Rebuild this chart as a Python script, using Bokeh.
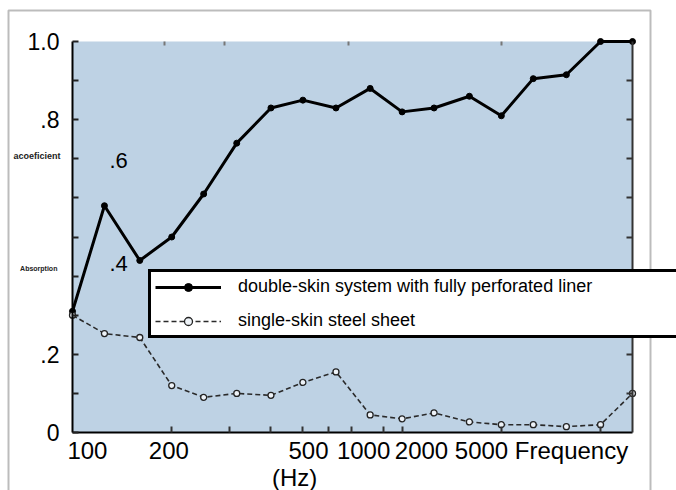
import math
from bokeh.plotting import figure
from bokeh.models import (Range1d, FixedTicker, LinearAxis, LogAxis, Legend,
                          LegendItem, Label, BoxAnnotation, ColumnDataSource)
from bokeh.embed import file_html
from bokeh.resources import INLINE

# 1/3-octave band centre frequencies (Hz)
freq = [100, 125, 160, 200, 250, 315, 400, 500, 630, 800,
        1000, 1250, 1600, 2000, 2500, 3150, 4000, 5000]
# absorption coefficient
double_skin = [0.31, 0.58, 0.44, 0.50, 0.61, 0.74, 0.83, 0.85, 0.83, 0.88,
               0.82, 0.83, 0.86, 0.81, 0.905, 0.915, 1.0, 1.0]
single_skin = [0.30, 0.253, 0.243, 0.12, 0.09, 0.10, 0.095, 0.128, 0.155, 0.045,
               0.035, 0.05, 0.027, 0.02, 0.02, 0.015, 0.02, 0.10]

series_names = ["double-skin system with fully perforated liner",
                "single-skin steel sheet"]

# tick labels as they appear on the original figure
y_label_vals = [0, 0.2, 0.8, 1.0]
y_label_text = ["0", ".2", ".8", "1.0"]
y_minor_vals = [0.1, 0.3, 0.4, 0.5, 0.6, 0.7, 0.9]
x_label_vals = [111, 196, 520, 764, 1145, 1741, 3266]
x_label_text = ["100", "200", "500", "1000", "2000", "5000", "Frequency"]
x_tick_vals = [200, 300, 400, 500, 600, 700, 880, 1000, 2000, 4000]
x_top_ticks = [190, 290, 690, 2000]
y_right_ticks = [0.1, 0.2, 0.3, 0.4, 0.5, 0.6, 0.7, 0.8, 0.9]

FONT = "Liberation Sans"
W, H = 676, 490
# pixel box of the shaded plotting area inside the canvas
PL, PR, PT, PB = 72, 632, 41, 432
X0, X1, Y0, Y1 = 100, 5000, 0.0, 1.0

dec_per_px = math.log10(X1 / X0) / (PR - PL)
x_start = X0 * 10 ** (-PL * dec_per_px)
x_end = X1 * 10 ** ((W - PR) * dec_per_px)
y_per_px = (Y1 - Y0) / (PB - PT)
y_start = Y0 - (H - PB) * y_per_px
y_end = Y1 + PT * y_per_px

p = figure(width=W, height=H, x_axis_type="log", title=None,
           x_range=Range1d(x_start, x_end), y_range=Range1d(y_start, y_end),
           output_backend="svg", toolbar_location=None,
           min_border_left=0, min_border_right=0,
           min_border_top=0, min_border_bottom=0,
           background_fill_color="white", border_fill_color="white",
           outline_line_color=None)
p.xgrid.visible = False
p.ygrid.visible = False

# shaded plotting area
p.add_layout(BoxAnnotation(left=X0, right=X1, bottom=Y0, top=Y1,
                           fill_color="#bed2e4", fill_alpha=1.0,
                           line_color=None, level="underlay"))

# bottom axis
xa = p.xaxis[0]
xa.fixed_location = Y0
xa.bounds = (X0, X1)
xa.ticker = FixedTicker(ticks=x_label_vals, minor_ticks=x_tick_vals)
xa.major_label_overrides = dict(zip(x_label_vals, x_label_text))
xa.major_tick_line_color = None
xa.major_tick_in = 0
xa.major_tick_out = 0
xa.minor_tick_in = 6
xa.minor_tick_out = 0
xa.minor_tick_line_width = 2
xa.minor_tick_line_color = "#333333"
xa.axis_line_color = "black"
xa.axis_line_width = 2
xa.major_label_text_font = FONT
xa.major_label_text_font_size = "24px"
xa.major_label_text_color = "black"
xa.major_label_standoff = 4

# left axis
ya = p.yaxis[0]
ya.fixed_location = X0
ya.bounds = (Y0, Y1)
ya.ticker = FixedTicker(ticks=y_label_vals, minor_ticks=y_minor_vals)
ya.major_label_overrides = dict(zip(y_label_vals, y_label_text))
ya.major_tick_in = 6
ya.major_tick_out = 0
ya.minor_tick_in = 6
ya.minor_tick_out = 0
ya.major_tick_line_width = 2
ya.minor_tick_line_width = 2
ya.major_tick_line_color = "#222222"
ya.minor_tick_line_color = "#222222"
ya.axis_line_color = "black"
ya.axis_line_width = 2
ya.major_label_text_font = FONT
ya.major_label_text_font_size = "23px"
ya.major_label_text_color = "black"
ya.major_label_standoff = 13

# right axis (ticks only)
ra = LinearAxis(fixed_location=X1, bounds=(Y0, Y1),
                ticker=FixedTicker(ticks=y_right_ticks),
                major_label_text_color=None,
                axis_line_color="#333333", axis_line_width=2,
                major_tick_in=6, major_tick_out=0,
                major_tick_line_color="#333333", major_tick_line_width=2,
                minor_tick_line_color=None)
p.add_layout(ra, "right")

# top axis (small marks only)
ta = LogAxis(fixed_location=Y1, bounds=(X0, X1),
             ticker=FixedTicker(ticks=x_top_ticks),
             major_label_text_color=None, axis_line_color=None,
             major_tick_in=4, major_tick_out=0,
             major_tick_line_color="#777777", major_tick_line_width=2,
             minor_tick_line_color=None)
p.add_layout(ta, "above")

src = ColumnDataSource(dict(freq=freq, double=double_skin, single=single_skin))

l1 = p.line("freq", "double", source=src, line_color="black", line_width=3)
s1 = p.scatter("freq", "double", source=src, marker="circle", size=6,
               fill_color="black", line_color="black")
l2 = p.line("freq", "single", source=src, line_color="#2a2a2a",
            line_width=1.6, line_dash="5 3")
s2 = p.scatter("freq", "single", source=src, marker="circle", size=6,
               fill_color="#eef3f8", line_color="#222222", line_width=1.3)

legend = Legend(items=[LegendItem(label=series_names[0], renderers=[l1, s1]),
                       LegendItem(label=series_names[1], renderers=[l2, s2])],
                location=(148, H - 338), margin=0, padding=4, spacing=13,
                glyph_width=66, glyph_height=20, label_height=20,
                label_width=470, label_standoff=17,
                label_text_font=FONT, label_text_font_size="18px",
                label_text_color="black",
                border_line_color="black", border_line_width=3,
                border_line_alpha=1.0,
                background_fill_color="white", background_fill_alpha=1.0)
p.add_layout(legend, "center")

# stray labels as on the original
def add_text(x, y, text, size, style="normal", color="black"):
    p.add_layout(Label(x=x, y=y, text=text, text_font=FONT,
                       text_font_size=size, text_font_style=style,
                       text_align="center", text_baseline="middle",
                       text_color=color))

add_text(138, 0.696, ".6", "22px")
add_text(138, 0.432, ".4", "22px")
add_text(78, 0.708, "acoeficient", "9px", "bold", "#222222")
add_text(79, 0.419, "Absorption", "7px", "bold", "#222222")
add_text(472, -0.115, "(Hz)", "24px")

# outer frame of the figure
p.add_layout(BoxAnnotation(left=8, right=650, top=10, bottom=H + 20,
                           left_units="canvas", right_units="canvas",
                           top_units="canvas", bottom_units="canvas",
                           fill_alpha=0, line_color="#222222", line_width=2))

open("out.html", "w").write(file_html(p, INLINE))
